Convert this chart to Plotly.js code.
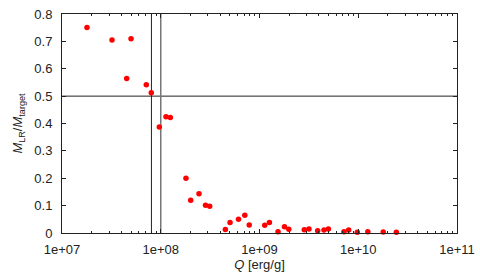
<!DOCTYPE html>
<html><head><meta charset="utf-8">
<script src="https://cdn.plot.ly/plotly-3.0.1.min.js"></script>
<style>html,body{margin:0;padding:0;background:#fff}#c{width:480px;height:274px}</style>
</head><body><div id="c"></div>
<script>
const Q = [1.79e7,3.21e7,5.0e7,4.52e7,7.14e7,8.02e7,9.67e7,1.13e8,1.25e8,
  1.80e8,2.01e8,2.44e8,2.84e8,3.13e8,4.51e8,5.03e8,6.13e8,7.10e8,7.87e8,
  1.13e9,1.26e9,1.54e9,1.79e9,1.98e9,2.84e9,3.17e9,3.88e9,4.50e9,4.98e9,
  7.17e9,8.0e9,9.78e9,1.25e10,1.79e10,2.43e10];
const ratio = [0.751,0.705,0.710,0.564,0.542,0.512,0.387,0.425,0.422,
  0.200,0.120,0.143,0.101,0.098,0.013,0.038,0.050,0.065,0.029,
  0.028,0.038,0.005,0.023,0.0135,0.012,0.0146,0.0084,0.011,0.0146,
  0.0048,0.011,0.0026,0.0048,0.0037,0.0026];
const hLineX = [1e7, 1e11], hLineY = [0.5, 0.5];
const vLine1X = [8.05e7, 8.05e7], vLine2X = [1e8, 1e8], vLineY = [0, 0.8];
const xTickVals = [1e7,1e8,1e9,1e10,1e11];
const xTickText = ['1e+07','1e+08','1e+09','1e+10','1e+11'];
const minorDigits = [2,3,4,5,6,7,8,9];
const decades = [1e7,1e8,1e9,1e10];
const minorVals = [];
decades.forEach(d => minorDigits.forEach(m => minorVals.push(m*d)));

const lineStyle = {color:'#222', width:1};
const traces = [
  {x:hLineX, y:hLineY, mode:'lines', line:lineStyle, hoverinfo:'skip'},
  {x:vLine1X, y:vLineY, mode:'lines', line:lineStyle, hoverinfo:'skip'},
  {x:vLine2X, y:vLineY, mode:'lines', line:{color:'#777', width:1.5}, hoverinfo:'skip'},
  {x:Q, y:ratio, mode:'markers', marker:{color:'#ff0000', size:5.5}, cliponaxis:false}
];
const font = {family:'"Liberation Sans", Arial, sans-serif', size:13, color:'#222'};
const layout = {
  width:480, height:274, showlegend:false,
  margin:{l:62, r:23, t:14, b:41},
  paper_bgcolor:'#fff', plot_bgcolor:'#fff', font:font,
  xaxis:{type:'log', range:[7,11], tickmode:'array', tickvals:xTickVals, ticktext:xTickText,
    ticks:'inside', ticklen:4, tickcolor:'#222', showgrid:false, zeroline:false,
    showline:true, linecolor:'#222', linewidth:1, mirror:'ticks',
    ticklabelstandoff:4,
    minor:{tickmode:'array', tickvals:minorVals, ticks:'inside', ticklen:2, tickcolor:'#222', showgrid:false},
    title:{text:'<i>Q</i> [erg/g]', font:font, standoff:4}},
  yaxis:{range:[0,0.8], dtick:0.1, ticks:'inside', ticklen:4, tickcolor:'#222',
    showgrid:false, zeroline:false, showline:true, linecolor:'#222', linewidth:1, mirror:'ticks',
    ticklabelstandoff:6,
    title:{text:'<i>M</i><sub>LR</sub>/<i>M</i><sub>target</sub>', font:font, standoff:8}}
};
Plotly.newPlot('c', traces, layout, {staticPlot:true, displayModeBar:false});
</script></body></html>
